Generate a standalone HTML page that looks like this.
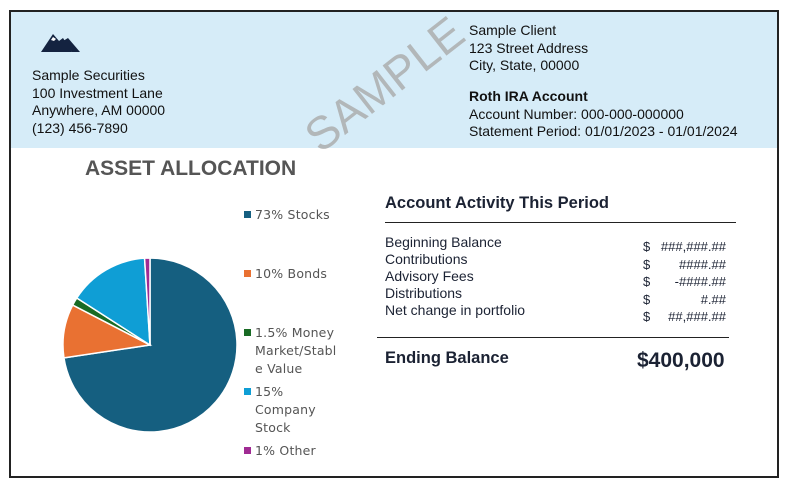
<!DOCTYPE html>
<html><head><meta charset="utf-8"><style>
body{margin:0;background:#fff;width:785px;height:487px;overflow:hidden;font-family:"Liberation Sans",sans-serif;}
.a{position:absolute;white-space:nowrap;}
#frame{position:absolute;left:9px;top:10px;width:766px;height:464px;border:2px solid #222;overflow:hidden;}
#hdr{position:absolute;left:0;top:0;width:766px;height:136px;background:#d6ecf8;}
.t{font-size:14px;color:#111;line-height:17.5px;}
.r{font-size:14px;color:#1b2233;line-height:17px;}
.lg{font-size:12.5px;color:#555;line-height:18px;font-family:"DejaVu Sans","Liberation Sans",sans-serif;letter-spacing:0.2px}
.sq{display:inline-block;width:7px;height:7px;margin-right:4px;vertical-align:1px}
</style></head><body>
<div id="frame">
<div id="hdr"></div>
<svg class="a" style="left:28px;top:15px" width="44" height="28"><polygon points="2,25 14,7 20,14 24,11 33,25" fill="#142340"/><polygon points="14,10 12,13 15,14 17,12" fill="#fff"/><polygon points="24,14 29,11 41,25 33,25" fill="#142340"/></svg>
<div class="a t" style="left:21px;top:55px">Sample Securities<br>100 Investment Lane<br>Anywhere, AM 00000<br>(123) 456-7890</div>
<div class="a t" style="left:458px;top:10px">Sample Client<br>123 Street Address<br>City, State, 00000</div>
<div class="a t" style="left:458px;top:76px"><b>Roth IRA Account</b><br>Account Number: 000-000-000000<br>Statement Period: 01/01/2023 - 01/01/2024</div>
<div class="a" style="left:280px;top:45px;font-size:46px;color:#aaa;transform:rotate(-38deg);transform-origin:center;opacity:.8">SAMPLE</div>
<div class="a" style="left:74px;top:145px;font-size:21px;font-weight:bold;color:#555">ASSET ALLOCATION</div>
<svg id="pie" class="a" style="left:0;top:0" width="300" height="464"></svg>
<div class="a lg" style="left:233px;top:194px"><span class="sq" style="background:#155f80"></span>73% Stocks</div>
<div class="a lg" style="left:233px;top:253px"><span class="sq" style="background:#e97132"></span>10% Bonds</div>
<div class="a lg" style="left:233px;top:312px"><span class="sq" style="background:#196b24"></span>1.5% Money<br><span style="margin-left:11px">Market/Stabl</span><br><span style="margin-left:11px">e Value</span></div>
<div class="a lg" style="left:233px;top:371px"><span class="sq" style="background:#0f9ed5"></span>15%<br><span style="margin-left:11px">Company</span><br><span style="margin-left:11px">Stock</span></div>
<div class="a lg" style="left:233px;top:430px"><span class="sq" style="background:#a02b93"></span>1% Other</div>
<div class="a" style="left:374px;top:182px;font-size:16.5px;font-weight:bold;color:#1b2233">Account Activity This Period</div>
<div class="a" style="left:374px;top:210px;width:351px;border-top:1px solid #222"></div>
<div class="a r" style="left:374px;top:222px">Beginning Balance<br>Contributions<br>Advisory Fees<br>Distributions<br>Net change in portfolio</div>
<div class="a r" style="left:632px;top:226px;font-size:13px;line-height:17.5px">$<br>$<br>$<br>$<br>$</div>
<div class="a r" style="left:630px;top:226px;width:85px;text-align:right;font-size:13px;line-height:17.5px">###,###.##<br>####.##<br>-####.##<br>#.##<br>##,###.##</div>
<div class="a" style="left:366px;top:325px;width:352px;border-top:1px solid #222"></div>
<div class="a" style="left:374px;top:337px;font-size:16.5px;font-weight:bold;color:#1b2233">Ending Balance</div>
<div class="a" style="left:626px;top:337px;font-size:21px;font-weight:bold;color:#1b2233">$400,000</div>
</div>
<script>
const categories=["Stocks","Bonds","Money Market/Stable Value","Company Stock","Other"];
const values=[73,10,1.5,15,1];
const colors=["#155f80","#e97132","#196b24","#0f9ed5","#a02b93"];
const svg=document.getElementById('pie');
const cx=139,cy=333,r=87;
const total=values.reduce((a,b)=>a+b,0);
let ang=0;
function pt(a){return [cx+r*Math.sin(a),cy-r*Math.cos(a)];}
values.forEach((v,i)=>{
  const a0=ang,a1=ang+v/total*2*Math.PI;ang=a1;
  const p0=pt(a0),p1=pt(a1);
  const large=(a1-a0)>Math.PI?1:0;
  const p=document.createElementNS('http://www.w3.org/2000/svg','path');
  p.setAttribute('d',`M${cx},${cy} L${p0[0]},${p0[1]} A${r},${r} 0 ${large} 1 ${p1[0]},${p1[1]} Z`);
  p.setAttribute('fill',colors[i]);
  p.setAttribute('stroke','#fff');
  p.setAttribute('stroke-width','1.5');
  
  
  svg.appendChild(p);
});
</script>
</body></html>
